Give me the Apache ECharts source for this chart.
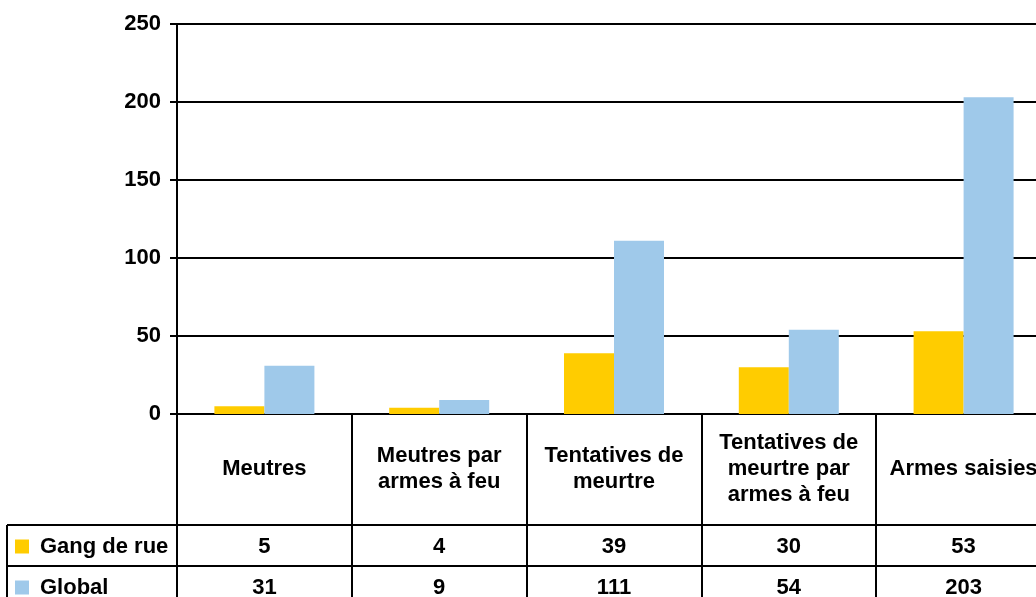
<!DOCTYPE html>
<html>
<head>
<meta charset="utf-8">
<script src="https://cdn.jsdelivr.net/npm/echarts@6/dist/echarts.min.js"></script>
<style>
  html, body { margin: 0; padding: 0; background: #fff; }
  #chart { width: 1036px; height: 597px; }
</style>
</head>
<body>
<div id="chart"></div>
<script>
// Categories (header row of the data table)
const categories = [
  'Meutres',
  'Meutres par\narmes à feu',
  'Tentatives de\nmeurtre',
  'Tentatives de\nmeurtre par\narmes à feu',
  'Armes saisies'
];
const seriesNames = ['Gang de rue', 'Global'];
const gangValues = [5, 4, 39, 30, 53];
const globalValues = [31, 9, 111, 54, 203];
const yTicks = { min: 0, max: 250, interval: 50 };

const FONT = '"Liberation Sans", Arial, sans-serif';
const BLACK = '#000';
const LINE_W = 2;

// Layout of plot area and table rows (the last column runs past the right edge)
const plotLeft = 177, plotTop = 24, plotBottomY = 414, plotWidth = 874;
const headerH = 111, rowH = 41;
const tableLeft = 7;

const chart = echarts.init(document.getElementById('chart'), null, { renderer: 'canvas' });

const textBase = { color: BLACK, fontFamily: FONT, fontWeight: 'bold', fontSize: 22 };

function valueRowAxis(offset, values) {
  return {
    type: 'category',
    data: categories,
    position: 'bottom',
    offset: offset,
    axisLine: { show: true, lineStyle: { color: BLACK, width: LINE_W } },
    axisTick: { show: false },
    splitLine: { show: false },
    axisLabel: Object.assign({}, textBase, {
      interval: 0,
      margin: rowH / 2 + 1,
      verticalAlign: 'middle',
      formatter: (v, i) => String(values[i])
    })
  };
}

// One legend per table row, placed in the left column
function rowLegend(name, rowIndex) {
  return {
    data: [name],
    left: 15,
    top: plotBottomY + headerH + rowIndex * rowH + rowH / 2 - 10,
    padding: 0,
    icon: 'rect',
    itemWidth: 14,
    itemHeight: 14,
    selectedMode: false,
    textStyle: Object.assign({}, textBase, { lineHeight: 22, padding: [0, 0, 0, 6] })
  };
}

const option = {
  animation: false,
  backgroundColor: '#fff',
  grid: {
    left: plotLeft, top: plotTop, width: plotWidth, height: plotBottomY - plotTop,
    containLabel: false, outerBoundsMode: 'none'
  },
  legend: [rowLegend(seriesNames[0], 0), rowLegend(seriesNames[1], 1)],
  xAxis: [
    {
      type: 'category',
      data: categories,
      position: 'bottom',
      axisLine: { show: true, lineStyle: { color: BLACK, width: LINE_W } },
      axisTick: {
        show: true,
        interval: 0,
        alignWithLabel: false,
        length: 200,
        lineStyle: { color: BLACK, width: LINE_W }
      },
      axisLabel: Object.assign({}, textBase, {
        interval: 0,
        margin: 55,
        verticalAlign: 'middle',
        lineHeight: 26,
        align: 'center'
      })
    },
    valueRowAxis(headerH, gangValues),
    valueRowAxis(headerH + rowH, globalValues)
  ],
  yAxis: {
    type: 'value',
    min: yTicks.min,
    max: yTicks.max,
    interval: yTicks.interval,
    axisLine: { show: true, lineStyle: { color: BLACK, width: LINE_W } },
    axisTick: { show: true, length: 7, lineStyle: { color: BLACK, width: LINE_W } },
    splitLine: { show: true, lineStyle: { color: BLACK, width: LINE_W } },
    axisLabel: Object.assign({}, textBase, { margin: 16 })
  },
  series: [
    {
      name: seriesNames[0],
      type: 'bar',
      data: gangValues,
      barWidth: 50,
      barGap: '0%',
      itemStyle: { color: '#FFCC00' }
    },
    {
      name: seriesNames[1],
      type: 'bar',
      data: globalValues,
      barWidth: 50,
      barGap: '0%',
      itemStyle: { color: '#9FC9EA' }
    }
  ],
  // Borders of the legend column at the left of the data table
  graphic: [
    { type: 'line', shape: { x1: tableLeft, y1: plotBottomY + headerH, x2: plotLeft, y2: plotBottomY + headerH },
      style: { stroke: BLACK, lineWidth: LINE_W } },
    { type: 'line', shape: { x1: tableLeft, y1: plotBottomY + headerH + rowH, x2: plotLeft, y2: plotBottomY + headerH + rowH },
      style: { stroke: BLACK, lineWidth: LINE_W } },
    { type: 'line', shape: { x1: tableLeft, y1: plotBottomY + headerH, x2: tableLeft, y2: 620 },
      style: { stroke: BLACK, lineWidth: LINE_W } }
  ]
};

chart.setOption(option);
</script>
</body>
</html>
